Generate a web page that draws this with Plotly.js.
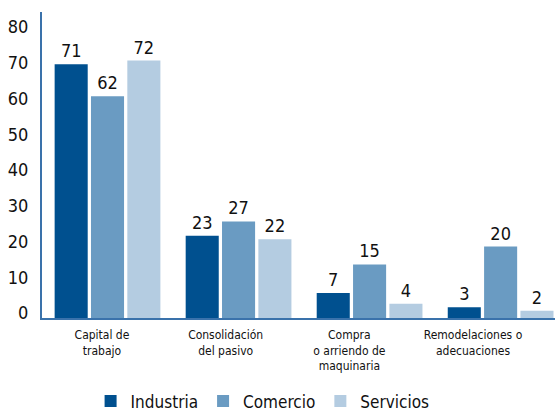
<!DOCTYPE html>
<html>
<head>
<meta charset="utf-8">
<script src="https://cdn.plot.ly/plotly-3.0.1.min.js"></script>
<style>html,body{margin:0;padding:0;background:#fff;}#chart{width:555px;height:412px;}</style>
</head>
<body>
<div id="chart"></div>
<script>
const categories = ["Capital de<br>trabajo", "Consolidación<br>del pasivo", "Compra<br>o arriendo de<br>maquinaria", "Remodelaciones o<br>adecuaciones"];
const industria = [71, 23, 7, 3];
const comercio = [62, 27, 15, 20];
const servicios = [72, 22, 4, 2];
const seriesNames = ["Industria", "Comercio", "Servicios"];
const yTicks = [0, 10, 20, 30, 40, 50, 60, 70, 80];

const FONT = '"DejaVu Sans Condensed", "Liberation Sans Narrow", sans-serif';
const colors = ["#00508f", "#6a9bc2", "#b4cce1"];
const catIdx = categories.map((c, i) => i);

function barTrace(vals, i) {
  return {
    type: 'bar', name: seriesNames[i], x: catIdx, y: vals,
    marker: {color: colors[i]},
    text: vals.map(String), textposition: 'outside', cliponaxis: false,
    textfont: {family: FONT, size: 18, color: '#111'},
    hoverinfo: 'skip'
  };
}

const data = [
  barTrace(industria, 0), barTrace(comercio, 1), barTrace(servicios, 2),
  {type: 'scatter', mode: 'none', x: [0, 3], y: [0, 0], xaxis: 'x2', yaxis: 'y', showlegend: false, hoverinfo: 'skip'}
];

const layout = {
  width: 555, height: 412,
  margin: {l: 42, r: 0, t: 12, b: 94, autoexpand: false},
  paper_bgcolor: '#fff', plot_bgcolor: '#fff',
  font: {family: FONT, color: '#111'},
  barmode: 'group', bargap: 0.168, bargroupgap: 0.09,
  showlegend: true,
  legend: {orientation: 'h', x: 0.43, xanchor: 'center', y: -0.214, yanchor: 'top',
           font: {family: FONT, size: 17, color: '#111'}, traceorder: 'normal'},
  xaxis: {type: 'linear', range: [-0.5, 3.415], showline: true, linecolor: '#3a72ab', linewidth: 2,
          showticklabels: false, showgrid: false, zeroline: false, ticks: '', automargin: false},
  xaxis2: {type: 'linear', overlaying: 'x', anchor: 'y', side: 'bottom', automargin: false,
           range: [-0.485, 3.663], tickmode: 'array', tickvals: catIdx, ticktext: categories,
           showline: false, showgrid: false, zeroline: false, ticks: '',
           tickfont: {family: FONT, size: 12, color: '#111'}, ticklabelstandoff: 8},
  yaxis: {range: [0, 85.6], tickmode: 'array', tickvals: yTicks, ticktext: yTicks.map(String),
          showline: true, linecolor: '#3a72ab', linewidth: 2, showgrid: false, zeroline: false,
          automargin: false,
          ticks: '', tickfont: {family: FONT, size: 18, color: '#111'},
          ticklabelshift: -5, ticklabelstandoff: 8}
};

Plotly.newPlot('chart', data, layout, {displayModeBar: false, staticPlot: true});
</script>
</body>
</html>
